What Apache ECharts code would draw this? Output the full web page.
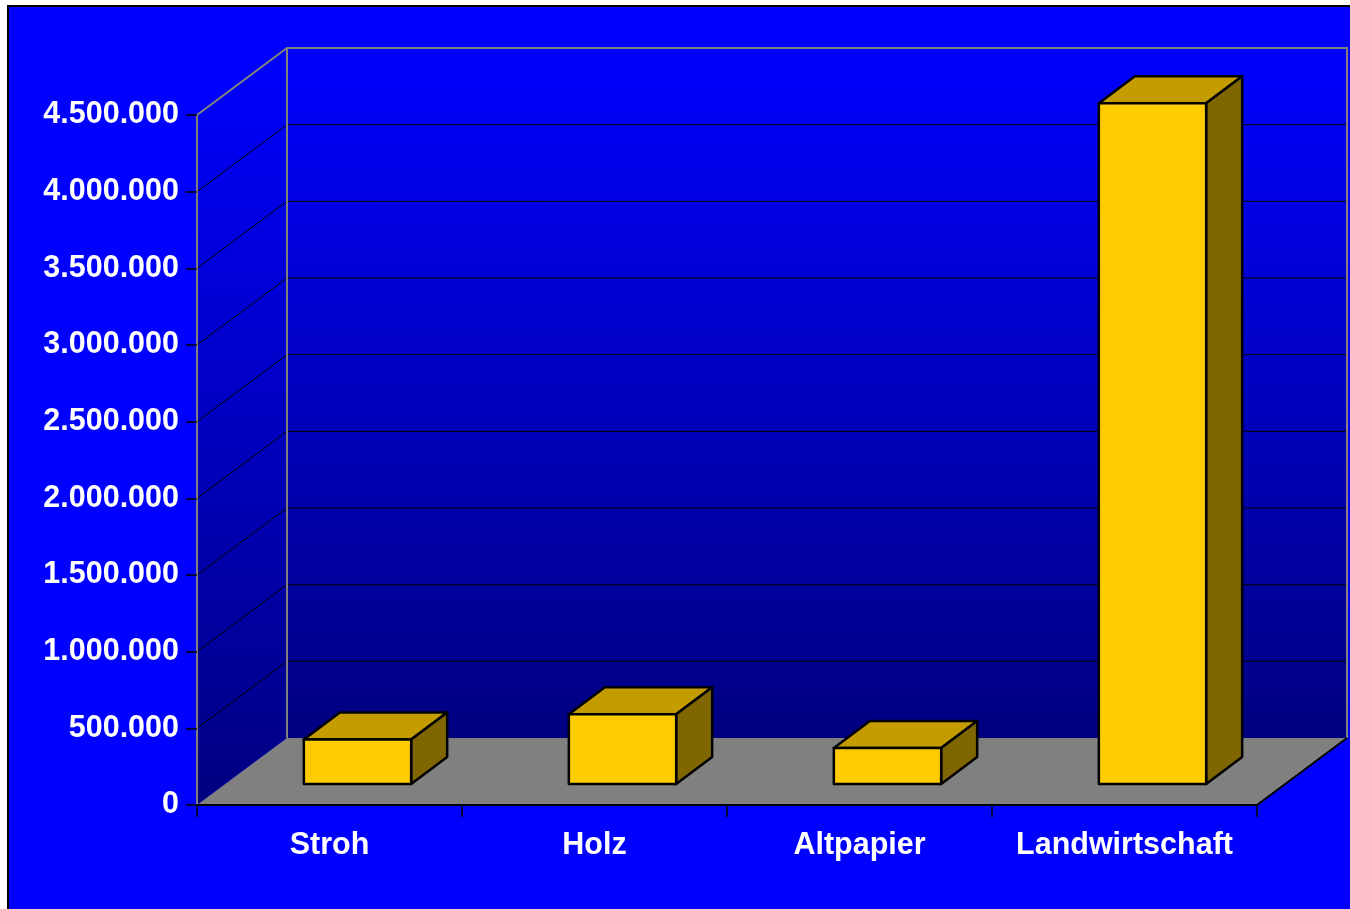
<!DOCTYPE html>
<html>
<head>
<meta charset="utf-8">
<title>Biomasse</title>
<script src="https://cdn.jsdelivr.net/npm/echarts@6/dist/echarts.min.js"></script>
<style>
  html, body { margin: 0; padding: 0; background: #ffffff; }
  #chart { width: 1350px; height: 909px; }
</style>
</head>
<body>
<div id="chart"></div>
<script>
// Categories and values
const categories = ['Stroh', 'Holz', 'Altpapier', 'Landwirtschaft'];
const values = [290000, 455000, 235000, 4440000];
const yTicks = [0, 500000, 1000000, 1500000, 2000000, 2500000, 3000000, 3500000, 4000000, 4500000];

// Oblique projection offsets (pixels) for the 3D look
const WALL_DX = 90, WALL_DY = -67;   // depth of the back wall
const BAR_DX = 28, BAR_DY = -21;     // front face of the boxes
const BOX_DX = 36, BOX_DY = -27;     // depth of each box

const FONT = "'Liberation Sans', Arial, sans-serif";

function fmt(v) {
  return String(v).replace(/\B(?=(\d{3})+(?!\d))/g, '.');
}

function wallGradient(y0, y1) {
  return new echarts.graphic.LinearGradient(0, y0, 0, y1, [
    { offset: 0, color: '#0000ff' },
    { offset: 1, color: '#000080' }
  ], true);
}

function renderWalls(params, api) {
  const cs = params.coordSys;
  const x0 = cs.x, x1 = cs.x + cs.width;
  const yt = cs.y, yb = cs.y + cs.height;
  const children = [];

  // back wall
  children.push({
    type: 'rect',
    shape: { x: x0 + WALL_DX, y: yt + WALL_DY, width: cs.width, height: cs.height },
    style: { fill: wallGradient(yt + WALL_DY, yb + WALL_DY) }
  });
  // left side wall
  children.push({
    type: 'polygon',
    shape: { points: [[x0, yb], [x0, yt], [x0 + WALL_DX, yt + WALL_DY], [x0 + WALL_DX, yb + WALL_DY]] },
    style: { fill: wallGradient(yt + WALL_DY, yb) }
  });
  // floor
  children.push({
    type: 'polygon',
    shape: { points: [[x0, yb], [x1, yb], [x1 + WALL_DX, yb + WALL_DY], [x0 + WALL_DX, yb + WALL_DY]] },
    style: { fill: '#808080' }
  });

  // gridlines on back wall and side wall
  yTicks.forEach(function (t, i) {
    if (i === 0 || i === yTicks.length - 1) return;
    const y = api.coord([0, t])[1];
    children.push({
      type: 'line',
      shape: { x1: x0 + WALL_DX, y1: y + WALL_DY, x2: x1 + WALL_DX, y2: y + WALL_DY },
      style: { stroke: '#000000', lineWidth: 1 }
    });
    children.push({
      type: 'line',
      shape: { x1: x0, y1: y, x2: x0 + WALL_DX, y2: y + WALL_DY },
      style: { stroke: '#000000', lineWidth: 1 }
    });
  });

  // gray wall edges
  children.push({
    type: 'polyline',
    shape: { points: [[x0, yb], [x0, yt], [x0 + WALL_DX, yt + WALL_DY], [x1 + WALL_DX, yt + WALL_DY], [x1 + WALL_DX, yb + WALL_DY]] },
    style: { stroke: '#808080', lineWidth: 2, fill: null }
  });
  children.push({
    type: 'line',
    shape: { x1: x0 + WALL_DX, y1: yt + WALL_DY, x2: x0 + WALL_DX, y2: yb + WALL_DY },
    style: { stroke: '#808080', lineWidth: 2 }
  });
  // floor front and right edges
  children.push({
    type: 'polyline',
    shape: { points: [[x0, yb], [x1, yb], [x1 + WALL_DX, yb + WALL_DY]] },
    style: { stroke: '#000000', lineWidth: 2, fill: null }
  });

  return { type: 'group', children: children };
}

function renderBox(params, api) {
  const idx = api.value(0);
  const p0 = api.coord([idx, 0]);
  const p1 = api.coord([idx, api.value(1)]);
  const bw = api.size([1, 0])[0] * 0.405;
  const fx0 = p0[0] - bw / 2 + BAR_DX;
  const fx1 = fx0 + bw;
  const fyb = p0[1] + BAR_DY;
  const fyt = p1[1] + BAR_DY;
  const edge = { stroke: '#000000', lineWidth: 2.5, lineJoin: 'round' };
  return {
    type: 'group',
    children: [
      {
        type: 'polygon',
        shape: { points: [[fx0, fyt], [fx1, fyt], [fx1 + BOX_DX, fyt + BOX_DY], [fx0 + BOX_DX, fyt + BOX_DY]] },
        style: Object.assign({ fill: '#c49c00' }, edge)
      },
      {
        type: 'polygon',
        shape: { points: [[fx1, fyt], [fx1 + BOX_DX, fyt + BOX_DY], [fx1 + BOX_DX, fyb + BOX_DY], [fx1, fyb]] },
        style: Object.assign({ fill: '#806600' }, edge)
      },
      {
        type: 'rect',
        shape: { x: fx0, y: fyt, width: bw, height: fyb - fyt },
        style: Object.assign({ fill: '#ffcc00' }, edge)
      }
    ]
  };
}

const chart = echarts.init(document.getElementById('chart'), null, { renderer: 'canvas' });

chart.setOption({
  backgroundColor: '#ffffff',
  animation: false,
  graphic: [{
    type: 'rect',
    silent: true,
    z: -10,
    shape: { x: 8, y: 6, width: 1352, height: 910 },
    style: { fill: '#0000ff', stroke: '#000000', lineWidth: 2 }
  }],
  grid: { left: 197, top: 115, width: 1060, height: 690 },
  xAxis: {
    type: 'category',
    data: categories,
    z: 10,
    axisLine: { show: true, lineStyle: { color: '#000000', width: 2 } },
    axisTick: { show: true, interval: 0, length: 12, lineStyle: { color: '#000000', width: 1.5 } },
    axisLabel: { interval: 0, color: '#ffffff', fontSize: 30.5, fontWeight: 'bold', fontFamily: FONT, margin: 25 },
    splitLine: { show: false }
  },
  yAxis: {
    type: 'value',
    min: 0,
    max: 4500000,
    interval: 500000,
    z: 10,
    axisLine: { show: true, lineStyle: { color: '#808080', width: 2 } },
    axisTick: { show: true, length: 11, lineStyle: { color: '#000000', width: 1.5 } },
    axisLabel: { color: '#ffffff', fontSize: 30.5, fontWeight: 'bold', fontFamily: FONT, margin: 18, formatter: fmt },
    splitLine: { show: false }
  },
  series: [
    {
      type: 'custom',
      renderItem: renderWalls,
      data: [[0, 0]],
      silent: true,
      z: 1
    },
    {
      type: 'custom',
      renderItem: renderBox,
      data: values.map(function (v, i) { return [i, v]; }),
      encode: { x: 0, y: 1 },
      z: 2
    }
  ]
});
</script>
</body>
</html>
